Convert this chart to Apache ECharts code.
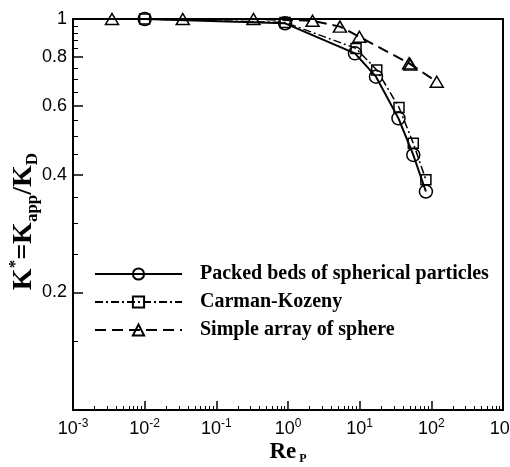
<!DOCTYPE html>
<html>
<head>
<meta charset="utf-8">
<script src="https://cdn.jsdelivr.net/npm/echarts@6/dist/echarts.min.js"></script>
<style>html,body{margin:0;padding:0;background:#fff}#c{width:510px;height:467px}</style>
</head>
<body>
<div id="c"></div>
<script>
// ---- data ----
const seriesNames = ['Packed beds of spherical particles', 'Carman-Kozeny', 'Simple array of sphere'];
const reP_packed = [0.01, 0.91, 8.6, 16.9, 34.8, 56, 84];
const kStar_packed = [1.0, 0.975, 0.817, 0.712, 0.557, 0.449, 0.362];
const reP_carman = [0.01, 0.91, 8.9, 17.3, 35.4, 56, 84];
const kStar_carman = [1.0, 0.98, 0.841, 0.741, 0.594, 0.481, 0.388];
const reP_array = [0.0035, 0.034, 0.33, 2.2, 5.3, 9.9, 49, 51, 119];
const kStar_array = [1.0, 1.0, 1.0, 0.99, 0.956, 0.901, 0.770, 0.765, 0.691];
const xMajorTicks = [0.001, 0.01, 0.1, 1, 10, 100, 1000];
const yMajorTicks = [0.2, 0.4, 0.6, 0.8, 1];
const yMinorTicks = [0.15, 0.25, 0.3, 0.35, 0.45, 0.5, 0.55, 0.65, 0.7, 0.75, 0.84, 0.88, 0.92, 0.96];
const xMinorTicks = [];
for (let e = -3; e < 3; e++) for (let k = 2; k <= 9; k++) xMinorTicks.push(+(k * Math.pow(10, e)).toPrecision(3));

const pairs = (xs, ys) => xs.map((x, i) => [x, ys[i]]);
const serif = 'Liberation Serif';
const sans = 'Liberation Sans';

const chart = echarts.init(document.getElementById('c'), null, {renderer: 'canvas'});
const base = {type: 'log', logBase: 10, min: 0.001, max: 1000};
chart.setOption({
  animation: false,
  backgroundColor: '#fff',
  grid: {left: 73, top: 19, right: 7, bottom: 57, containLabel: false, outerBoundsMode: 'none',
         show: true, borderColor: '#000', borderWidth: 2, backgroundColor: 'transparent'},
  legend: {
    orient: 'vertical', left: 89, top: 259, itemWidth: 87, itemHeight: 14, itemGap: 8,
    data: seriesNames,
    textStyle: {fontFamily: serif, fontWeight: 'bold', fontSize: 20, lineHeight: 16, color: '#000', padding: [0, 0, 0, 13]}
  },
  xAxis: [
    Object.assign({}, base, {
      position: 'bottom',
      name: '{r|Re}{p| P}', nameLocation: 'middle', nameGap: 29, nameMoveOverlap: false,
      nameTextStyle: {rich: {
        r: {fontFamily: serif, fontWeight: 'bold', fontSize: 23, color: '#000', lineHeight: 26, verticalAlign: 'middle'},
        p: {fontFamily: serif, fontWeight: 'bold', fontSize: 12, color: '#000', lineHeight: 12, verticalAlign: 'bottom'}
      }},
      axisLine: {lineStyle: {color: '#000', width: 2}},
      axisTick: {inside: true, length: 9, lineStyle: {color: '#000', width: 1.5}, customValues: xMajorTicks},
      axisLabel: {
        customValues: xMajorTicks, margin: 8,
        formatter: v => '{b|10}{s|' + Math.round(Math.log10(v)) + '}',
        rich: {
          b: {fontFamily: sans, fontSize: 18, color: '#000', lineHeight: 22, verticalAlign: 'middle'},
          s: {fontFamily: sans, fontSize: 12, color: '#000', lineHeight: 10, verticalAlign: 'top'}
        }
      },
      splitLine: {show: false}
    }),
    Object.assign({}, base, {
      position: 'bottom',
      axisLine: {show: false},
      axisTick: {inside: true, length: 4, lineStyle: {color: '#000', width: 1}, customValues: xMinorTicks},
      axisLabel: {show: false},
      splitLine: {show: false}
    })
  ],
  yAxis: [
    {
      type: 'log', logBase: 10, min: 0.1, max: 1, position: 'left',
      name: '{k|K}{sp|*}{k|=K}{sb|app}{k|/K}{sb|D}', nameLocation: 'middle', nameRotate: 90, nameGap: 32,
      nameMoveOverlap: false,
      nameTextStyle: {padding: [0, 14, 0, 0], rich: {
        k: {fontFamily: serif, fontWeight: 'bold', fontSize: 28, color: '#000', lineHeight: 34, verticalAlign: 'middle'},
        sp: {fontFamily: serif, fontWeight: 'bold', fontSize: 17, color: '#000', lineHeight: 14, verticalAlign: 'top'},
        sb: {fontFamily: serif, fontWeight: 'bold', fontSize: 17, color: '#000', lineHeight: 14, verticalAlign: 'bottom'}
      }},
      axisLine: {lineStyle: {color: '#000', width: 2}},
      axisTick: {inside: true, length: 10, lineStyle: {color: '#000', width: 1.5}, customValues: yMajorTicks},
      axisLabel: {
        customValues: yMajorTicks, margin: 6,
        formatter: v => (Math.abs(v - 1) < 1e-9 ? '1' : v.toFixed(1)),
        fontFamily: sans, fontSize: 18, color: '#000'
      },
      splitLine: {show: false}
    },
    {
      type: 'log', logBase: 10, min: 0.1, max: 1, position: 'left',
      axisLine: {show: false},
      axisTick: {inside: true, length: 5, lineStyle: {color: '#000', width: 1}, customValues: yMinorTicks},
      axisLabel: {show: false},
      splitLine: {show: false}
    }
  ],
  series: [
    {
      name: seriesNames[0], type: 'line', data: pairs(reP_packed, kStar_packed),
      symbol: 'circle', symbolSize: 13,
      lineStyle: {color: '#000', width: 2, type: 'solid'},
      itemStyle: {color: 'transparent', borderColor: '#000', borderWidth: 1.5}
    },
    {
      name: seriesNames[1], type: 'line', data: pairs(reP_carman, kStar_carman),
      symbol: 'rect', symbolSize: 10,
      lineStyle: {color: '#000', width: 1.5, type: [8, 3, 2, 3]},
      itemStyle: {color: 'transparent', borderColor: '#000', borderWidth: 1.5}
    },
    {
      name: seriesNames[2], type: 'line', data: pairs(reP_array, kStar_array),
      symbol: 'triangle', symbolSize: [13, 11],
      lineStyle: {color: '#000', width: 2, type: [11, 6]},
      itemStyle: {color: 'transparent', borderColor: '#000', borderWidth: 1.5}
    }
  ]
});
</script>
</body>
</html>
